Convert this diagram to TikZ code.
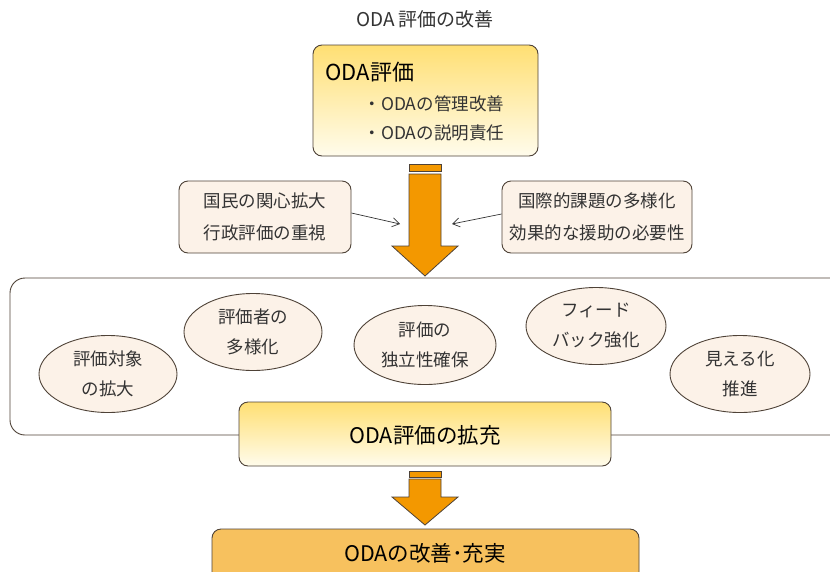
\documentclass[tikz,border=0pt]{standalone}
\usepackage{fontspec}
\setmainfont{Noto Sans CJK JP}
\usetikzlibrary{shapes.geometric,arrows.meta}
\definecolor{edgec}{HTML}{4E4237}
\definecolor{txt}{HTML}{333333}
\definecolor{arrowc}{HTML}{F39800}
\definecolor{paleb}{HTML}{FCF2E8}
\definecolor{goldtop}{HTML}{FFDF73}
\definecolor{goldbot}{HTML}{FFFCEC}
\definecolor{orangebox}{HTML}{F7C15E}
\tikzset{
  goldbox/.style={draw=edgec, line width=0.9pt, rounded corners=9pt, top color=goldtop, bottom color=goldbot},
  palebox/.style={draw=edgec, line width=0.9pt, rounded corners=9pt, fill=paleb, align=center, font=\fontsize{17.5}{32}\selectfont, text=txt, inner sep=0pt},
  bubble/.style={draw=edgec, line width=0.9pt, ellipse, fill=paleb, minimum width=138pt, minimum height=77pt, align=center, font=\fontsize{17.5}{30}\selectfont, text=txt, inner sep=0pt},
  bigarrow/.style={draw=edgec, line width=0.8pt, fill=arrowc},
  thinarrow/.style={draw=txt, line width=0.7pt, -{Straight Barb[length=7pt,width=9pt]}},
}
\begin{document}
\begin{tikzpicture}[x=1pt,y=-1pt]
\useasboundingbox (0,0) rectangle (830,571);
% title
\node[text=txt, font=\fontsize{19}{22}\selectfont] (title) at (425,19) {ODA 評価の改善};
% top box
\path[goldbox] (313,45) rectangle (538,156);
\node[anchor=west, text=black, font=\fontsize{22}{24}\selectfont] (odaeval) at (322,72) {ODA評価};
\node[anchor=west, text=txt, font=\fontsize{17.5}{20}\selectfont] (item1) at (360,104) {・ODAの管理改善};
\node[anchor=west, text=txt, font=\fontsize{17.5}{20}\selectfont] (item2) at (360,133) {・ODAの説明責任};
% first big arrow
\path[bigarrow] (409,164) rectangle (441,171);
\path[bigarrow] (409,174) -- (441,174) -- (441,246) -- (458,246) -- (425,276) -- (392,246) -- (409,246) -- cycle;
\coordinate (leftin) at (400,224);
\coordinate (rightin) at (452,224);
% side boxes
\node[palebox, minimum width=172pt, minimum height=72pt] (lbox) at (265,217) {国民の関心拡大\\行政評価の重視};
\node[palebox, minimum width=190pt, minimum height=72pt] (rbox) at (597,217) {国際的課題の多様化\\効果的な援助の必要性};
\draw[thinarrow] (lbox.east) ++(0,-4) -- (leftin);
\draw[thinarrow] (rbox.west) ++(0,-3) -- (rightin);
% big container
\draw[edgec, line width=0.9pt, rounded corners=15pt] (10,278) rectangle (845,435);
% bubbles
\node[bubble] (b1) at (108,374) {評価対象\\の拡大};
\node[bubble] (b2) at (253,332) {評価者の\\多様化};
\node[bubble, minimum width=142pt, minimum height=79pt] (b3) at (425,345) {評価の\\独立性確保};
\node[bubble, minimum width=140pt] (b4) at (596,326) {フィード\\バック強化};
\node[bubble, minimum width=140pt] (b5) at (740,374) {見える化\\推進};
% expansion box
\path[goldbox] (239,402) rectangle (611,466);
\node[text=black, font=\fontsize{21.5}{24}\selectfont] (expand) at (425,435) {ODA評価の拡充};
% second big arrow
\path[bigarrow] (409,471) rectangle (441,477);
\path[bigarrow] (409,479) -- (441,479) -- (441,497) -- (458,497) -- (425,525) -- (392,497) -- (409,497) -- cycle;
% bottom box
\path[draw=edgec, line width=0.9pt, rounded corners=9pt, fill=orangebox] (212,529) rectangle (639,590);
\node[text=black, font=\fontsize{21.5}{24}\selectfont] (result) at (425,553) {ODAの改善･充実};
\end{tikzpicture}
\end{document}
